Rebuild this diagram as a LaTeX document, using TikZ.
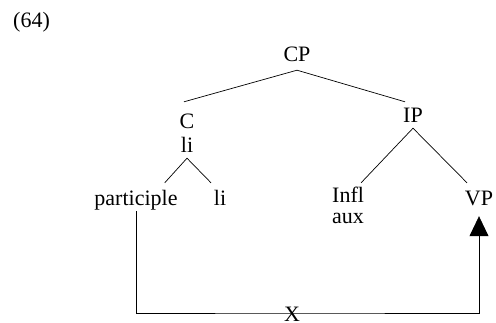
\documentclass[tikz,border=0pt]{standalone}
\usepackage{fontspec}
\setmainfont{Liberation Serif}
\usetikzlibrary{arrows.meta}
\begin{document}
\begin{tikzpicture}[x=1pt,y=1pt,
  lab/.style={inner sep=0pt, anchor=base, text height=14pt, text depth=0pt, font=\fontsize{22}{24}\selectfont},
  edge/.style={line width=0.7pt, black}]
\useasboundingbox (0,0) rectangle (496,-323);
\node[lab, anchor=base west] (ex) at (13,-28) {(64)};
\node[lab] (CP) at (297,-62) {CP};
\node[lab] (C) at (187,-129) {C};
\node[lab] (Cli) at (187,-153) {li};
\node[lab] (IP) at (413,-123) {IP};
\node[lab] (part) at (136,-206) {participle};
\node[lab] (li) at (220,-206) {li};
\node[lab, anchor=base west] (infl) at (332,-203) {Infl};
\node[lab, anchor=base west] (aux) at (332,-224) {aux};
\node[lab] (VP) at (479,-206) {VP};
\coordinate (bot) at (292,-313);
\node[lab] (X) at (292,-322) {X};
\draw[edge] ([yshift=-8pt]CP.south) -- ([xshift=-3pt,yshift=13pt]C.north);
\draw[edge] ([yshift=-8pt]CP.south) -- ([xshift=-8pt,yshift=7pt]IP.north);
\draw[edge] ([yshift=-5pt]Cli.south) -- ([xshift=-13pt,yshift=9pt]part.north east);
\draw[edge] ([yshift=-5pt]Cli.south) -- ([xshift=-9pt,yshift=9pt]li.north);
\draw[edge] ([yshift=-5pt]IP.south) -- ([xshift=13pt,yshift=6pt]infl.north);
\draw[edge] ([yshift=-5pt]IP.south) -- ([xshift=-12pt,yshift=9pt]VP.north);
\draw[edge, -{Triangle[width=19pt,length=20pt]}] ([yshift=-5pt]part.south) |- (bot) -| ([yshift=-10pt]VP.south);
\end{tikzpicture}
\end{document}
